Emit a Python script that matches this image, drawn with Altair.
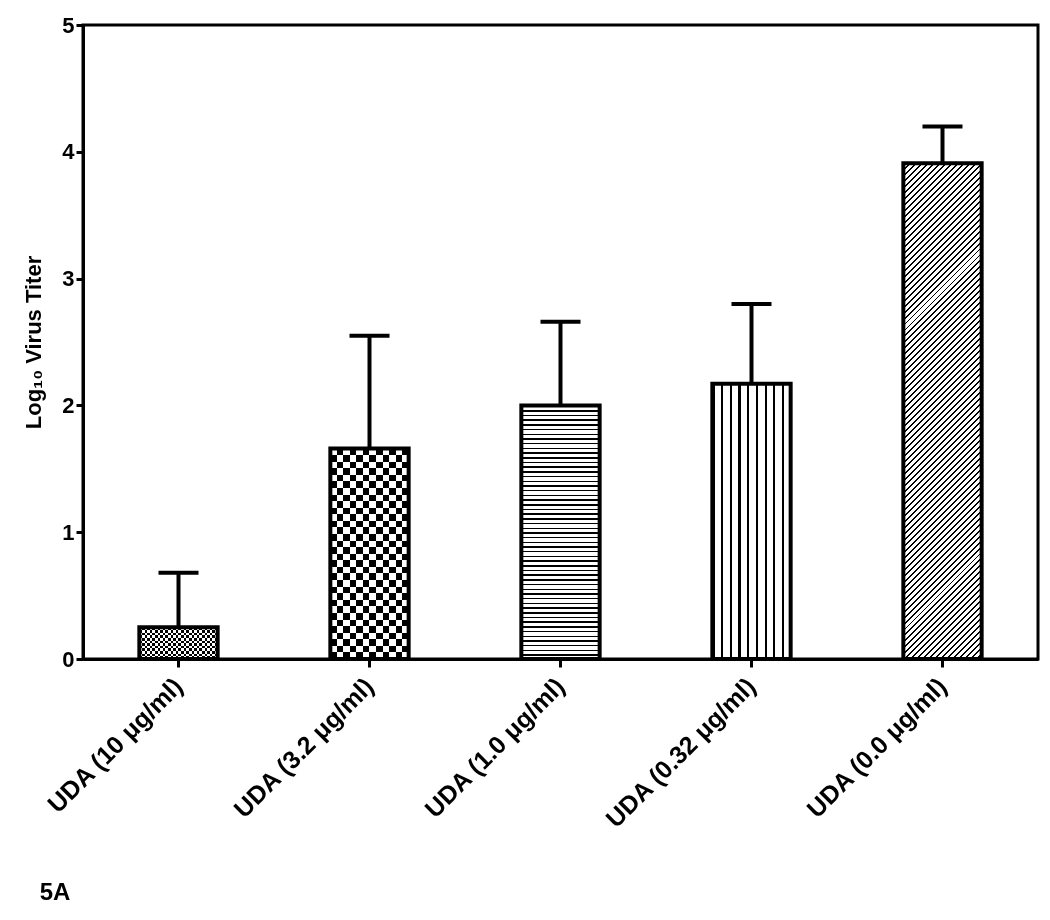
import altair as alt
import pandas as pd

# ---- data ----
labels = ["UDA (10 μg/ml)", "UDA (3.2 μg/ml)", "UDA (1.0 μg/ml)",
          "UDA (0.32 μg/ml)", "UDA (0.0 μg/ml)"]
means = [0.25, 1.66, 2.00, 2.17, 3.91]
errors = [0.43, 0.89, 0.66, 0.63, 0.29]
y_ticks = [0, 1, 2, 3, 4, 5]

df = pd.DataFrame({"label": labels, "mean": means, "err": errors})
df["upper"] = df["mean"] + df["err"]

# ---- layout / style ----
W, H = 955, 634
YMAX = 5
PAD_IN = 0.59
BAR_W = (1 - PAD_IN) * W / len(labels)
PX = H / YMAX
FONT = "Liberation Sans"


def stops_for(n, frac, line, bg):
    out = []
    for i in range(n):
        a, b, c = i / n, (i + frac) / n, (i + 1) / n
        out += [(a, line), (b, line), (b, bg), (c, bg)]
    return [{"offset": round(o, 5), "color": col} for o, col in out]


def grad(n, frac, x2, y2, line="black", bg="white"):
    return {"gradient": "linear", "x1": 0, "y1": 0, "x2": x2, "y2": y2,
            "stops": stops_for(max(1, n), frac, line, bg)}


def vstripes(n, frac, line="black", bg="white"):
    return grad(n, frac, 1, 0, line, bg)


def hstripes(n, frac, line="black", bg="white"):
    return grad(n, frac, 0, 1, line, bg)


def diag(h, spacing, frac):
    r = BAR_W / h
    k = (1 + r) / (1 + r * r)
    n = round((BAR_W + h) / spacing)
    return {"gradient": "linear", "x1": 0, "y1": 0, "x2": round(k * r, 5),
            "y2": round(k, 5), "stops": stops_for(n, frac, "black", "white")}


heights = [m * PX for m in means]
CELL_FINE, CELL_COARSE = 2.7, 6.5

fills = [
    vstripes(round(BAR_W / (2 * CELL_FINE)), 0.5),
    vstripes(round(BAR_W / (2 * CELL_COARSE)), 0.5),
    hstripes(round(heights[2] / 4.7), 0.32),
    vstripes(9, 0.25),
    diag(heights[4], 6.0, 0.33),
]
overlays = {
    0: hstripes(round(heights[0] / (2 * CELL_FINE)), 0.5, line="white", bg="black"),
    1: hstripes(round(heights[1] / (2 * CELL_COARSE)), 0.5, line="white", bg="black"),
}

x_enc = alt.X("label:N", sort=labels,
              scale=alt.Scale(paddingInner=PAD_IN, paddingOuter=PAD_IN / 2),
              axis=alt.Axis(title=None, labelAngle=-45, labelAlign="right",
                            labelBaseline="middle", labelFontSize=25,
                            labelFontWeight="bold", labelFont=FONT,
                            labelColor="black", labelPadding=15,
                            labelLimit=0,
                            tickSize=8, tickWidth=3, tickColor="black",
                            domainWidth=3, domainColor="black"))
y_enc = alt.Y("mean:Q", scale=alt.Scale(domain=[0, YMAX], nice=False),
              axis=alt.Axis(title="Log₁₀ Virus Titer", values=y_ticks,
                            format="d", grid=False,
                            labelFontSize=22, labelFontWeight="bold",
                            labelFont=FONT, labelColor="black",
                            labelPadding=2, tickSize=7, tickWidth=3,
                            tickColor="black", domainWidth=3,
                            domainColor="black", titleFontSize=22,
                            titleFont=FONT, titleFontWeight="bold",
                            titleColor="black", titlePadding=16))

base = alt.Chart(df)
layers = []
for i, lab in enumerate(labels):
    layers.append(
        base.mark_bar(fill=fills[i], strokeWidth=0)
        .encode(x=x_enc, y=y_enc)
        .transform_filter(alt.datum.label == lab)
    )
for i, g in overlays.items():
    layers.append(
        base.mark_bar(fill=g, strokeWidth=0, blend="difference")
        .encode(x=x_enc, y=y_enc)
        .transform_filter(alt.datum.label == labels[i])
    )
outline = base.mark_bar(fillOpacity=0, stroke="black", strokeWidth=4).encode(
    x=x_enc, y=y_enc)
rule = base.mark_rule(color="black", strokeWidth=4, opacity=1).encode(
    x=x_enc, y="mean:Q", y2="upper:Q")
cap = base.mark_tick(color="black", size=40, thickness=4, opacity=1).encode(
    x=x_enc, y=alt.Y("upper:Q"))

chart = alt.layer(*layers, rule, outline, cap).properties(
    width=W, height=H,
    autosize=alt.AutoSizeParams(type="none"),
    padding={"left": 75, "top": 17, "right": 2, "bottom": 245},
    title=alt.TitleParams("5A", orient="bottom", anchor="start", fontSize=24,
                          fontWeight="bold", font=FONT, color="black",
                          dx=17, offset=48),
).configure(background="white").configure_view(stroke="black", strokeWidth=3)

chart.save("out.html", embed_options={"renderer": "svg", "actions": False})
